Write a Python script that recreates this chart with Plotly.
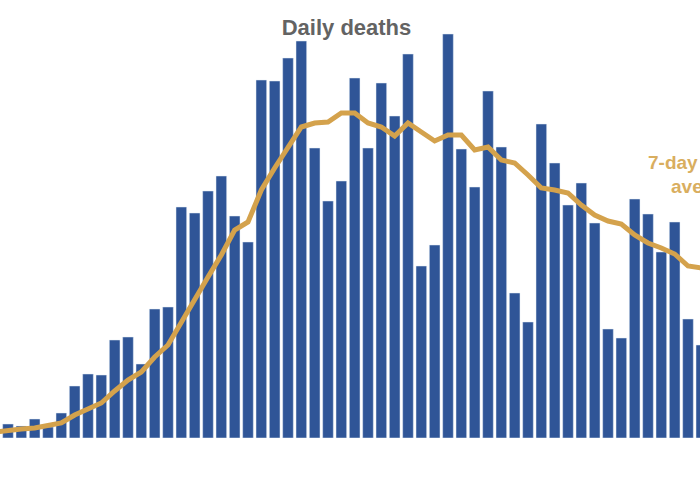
import plotly.graph_objects as go

#values, the original has no y axis so the units are only relative

days = list(range(53))

daily_deaths = [14, 12, 19, 11, 25, 52, 64, 63, 98, 101, 74, 129, 131, 231, 225, 247, 262, 222, 196,
                358, 357, 380, 397, 290, 237, 257, 360, 290, 355, 322, 384, 172, 193, 404, 289, 251,
                347, 291, 145, 116, 314, 275, 233, 255, 215, 109, 100, 239, 224, 186, 216, 119, 93]

avg_days = [-1] + days

#7-day line starts one day before the first bar, cut off by the left edge
seven_day_avg = [6, 8, 9, 10, 12, 15, 23, 29, 35, 47, 58, 66, 81, 93, 116, 140, 161, 183, 208, 216,
                 248, 270, 290, 311, 315, 316, 325, 325, 315, 311, 302, 315, 306, 297, 303, 303, 288,
                 291, 278, 275, 263, 250, 248, 245, 233, 223, 217, 214, 203, 195, 190, 184, 172, 170]

fig = go.Figure()
fig.add_trace(go.Bar(x=days, y=daily_deaths, marker_color="#2F5597", width=0.8))
fig.add_trace(go.Scatter(x=avg_days, y=seven_day_avg, mode="lines",
                         line=dict(color="#D4A24C", width=5)))

fig.update_layout(
    width=700, height=500,
    margin=dict(l=0, r=0, t=0, b=62),
    paper_bgcolor="white", plot_bgcolor="white",
    showlegend=False,
    font=dict(family="Liberation Sans"),
    xaxis=dict(range=[-0.6, 51.9], visible=False),
    yaxis=dict(range=[0, 438], visible=False),
    title=dict(text="<b>Daily deaths</b>", x=0.495, xanchor="center", y=0.945, yanchor="middle",
               font=dict(size=22, color="#636363")),
)

#label runs off the right edge in the original too
fig.add_annotation(text="<b>7-day</b>", xref="paper", yref="paper", x=0.923, y=0.63,
                   xanchor="left", yanchor="middle", showarrow=False,
                   font=dict(size=19, color="#D9AE5F"))
fig.add_annotation(text="<b>average</b>", xref="paper", yref="paper", x=0.955, y=0.575,
                   xanchor="left", yanchor="middle", showarrow=False,
                   font=dict(size=19, color="#D9AE5F"))

#page has a default body margin that pushes the plot off by 8px
fig.write_html("out.html", config=dict(displayModeBar=False),
               post_script="document.body.style.margin='0';")
